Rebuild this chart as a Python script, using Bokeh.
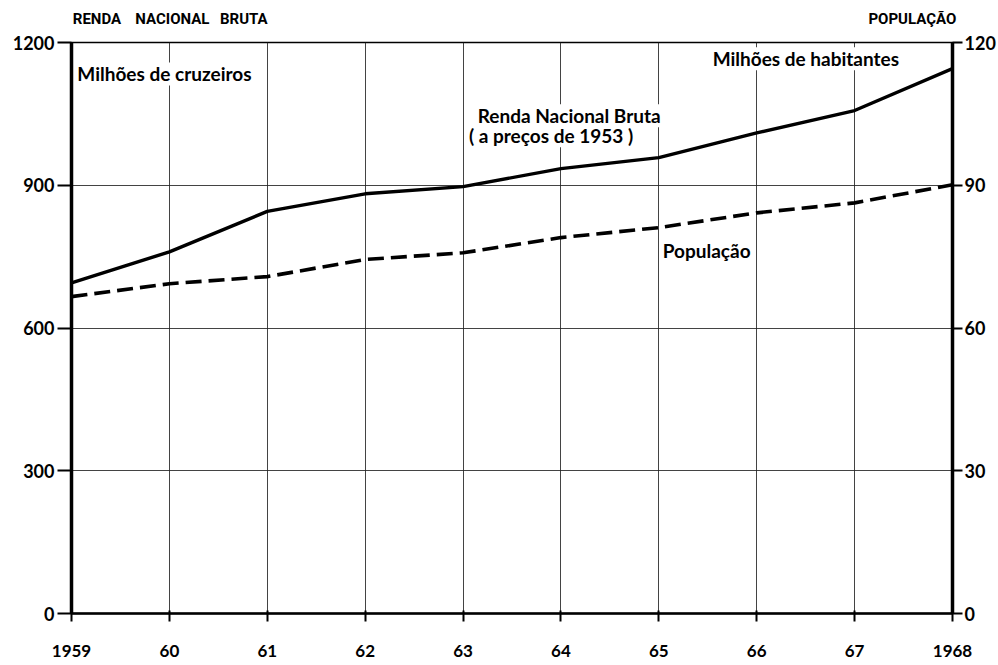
from bokeh.plotting import figure
from bokeh.models import Range1d, LinearAxis, FixedTicker, Label
from bokeh.embed import file_html
from bokeh.resources import INLINE

years = [1959, 1960, 1961, 1962, 1963, 1964, 1965, 1966, 1967, 1968]
year_labels = ["1959", "60", "61", "62", "63", "64", "65", "66", "67", "1968"]
renda = [695, 760, 845, 882, 897, 935, 958, 1010, 1057, 1145]
populacao = [66.6, 69.3, 70.8, 74.4, 75.8, 79.0, 81.1, 84.2, 86.3, 90.1]
left_ticks = [0, 300, 600, 900, 1200]
right_ticks = [0, 30, 60, 90, 120]
header_words = ["RENDA", "NACIONAL", "BRUTA", "POPULAÇÃO"]
header_pos = [1959.26, 1960.03, 1960.76, 1967.59]

FONT = "Lato"
NARROW = "Roboto"

p = figure(width=998, height=665, output_backend="svg", toolbar_location=None,
           x_range=Range1d(1959, 1968), y_range=Range1d(0, 1200),
           x_axis_location=None, y_axis_location=None,
           min_border_left=71, min_border_right=46, min_border_top=42, min_border_bottom=52)
p.extra_y_ranges = {"pop": Range1d(0, 120)}
p.outline_line_color = "black"
p.outline_line_width = 1.5
p.background_fill_color = "white"
p.border_fill_color = "white"

# axes
la = LinearAxis(ticker=FixedTicker(ticks=left_ticks))
ra = LinearAxis(y_range_name="pop", ticker=FixedTicker(ticks=right_ticks))
ba = LinearAxis(ticker=FixedTicker(ticks=years),
                major_label_overrides={y: l for y, l in zip(years, year_labels)})
ta = LinearAxis(ticker=FixedTicker(ticks=header_pos),
                major_label_overrides={x: w for x, w in zip(header_pos, header_words)})
for ax in (la, ra, ba, ta):
    ax.axis_line_color = "black"
    ax.major_tick_line_color = "black"
    ax.major_tick_line_width = 2
    ax.minor_tick_line_color = None
    ax.major_label_text_font = FONT
    ax.major_label_text_font_style = "bold"
    ax.major_label_text_font_size = "18px"
    ax.major_label_text_color = "black"
la.axis_line_width = 3.5
la.major_tick_in = 0
la.major_tick_out = 14
la.major_label_standoff = 3
ra.axis_line_width = 3.5
ra.major_tick_in = 0
ra.major_tick_out = 10
ra.major_label_standoff = 2
ba.axis_line_width = 2.5
ba.major_tick_in = 3
ba.major_tick_out = 8
ba.major_label_standoff = 23
ba.major_label_text_font_size = "17px"
ta.axis_line_color = None
ta.major_tick_line_color = None
ta.major_tick_in = 0
ta.major_tick_out = 0
ta.major_label_standoff = 15
ta.major_label_text_font = NARROW
ta.major_label_text_font_size = "15px"
p.add_layout(la, "left")
p.add_layout(ra, "right")
p.add_layout(ba, "below")
p.add_layout(ta, "above")

# grid
p.xgrid.ticker = FixedTicker(ticks=years)
p.ygrid.ticker = FixedTicker(ticks=left_ticks)
for g in (p.xgrid, p.ygrid):
    g.grid_line_color = "#222222"
    g.grid_line_width = 1
    g.grid_line_alpha = 0.85

# data lines
p.line(years, renda, line_color="black", line_width=3.4)
p.line(years, populacao, y_range_name="pop", line_color="black", line_width=3.6,
       line_dash="16 7")

def lab(x, y, text, size="19px"):
    p.add_layout(Label(x=x, y=y, text=text, text_font=FONT, text_font_style="bold",
                       text_font_size=size, text_align="left", text_baseline="middle",
                       text_color="black", background_fill_color="white"))

lab(1959.06, 1134, "Milhões  de cruzeiros")
lab(1965.55, 1166, "Milhões de habitantes")
lab(1963.15, 1046, "Renda Nacional Bruta")
lab(1963.06, 1004, "( a preços de 1953 )")
lab(1965.04, 763, "População")

open("out.html", "w").write(file_html(p, INLINE))
